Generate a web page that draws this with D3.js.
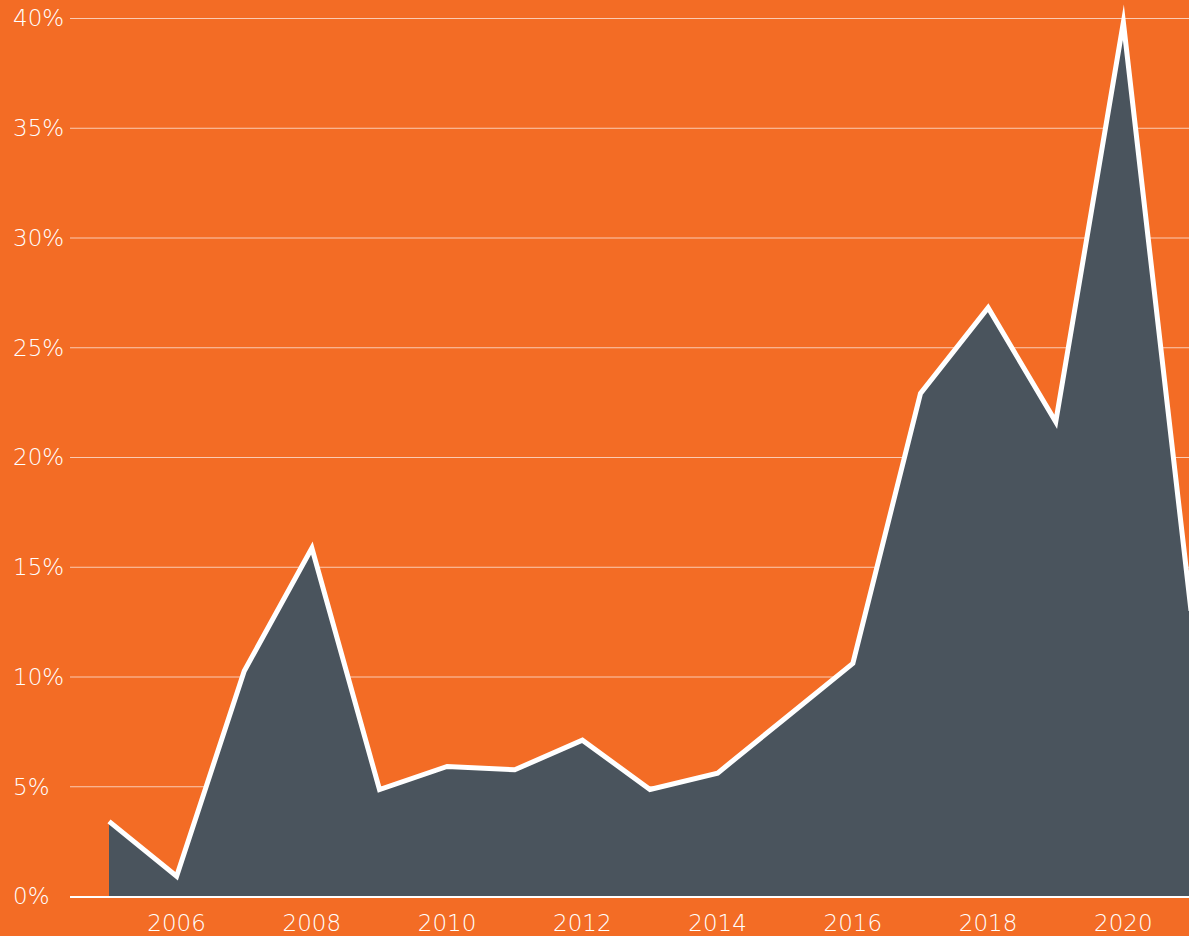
<!DOCTYPE html>
<html>
<head>
<meta charset="utf-8">
<script src="https://cdn.jsdelivr.net/npm/d3@7"></script>
<style>
  html, body { margin: 0; padding: 0; background: #f36c25; overflow: hidden; }
  svg { display: block; }
  text { font-family: "DejaVu Sans", sans-serif; font-weight: 200; fill: #fff; }
</style>
</head>
<body>
<div id="chart"></div>
<script>
// data
const years  = [2005, 2006, 2007, 2008, 2009, 2010, 2011, 2012, 2013, 2014, 2015, 2016, 2017, 2018, 2019, 2020, 2021];
const shares = [3.4, 0.9, 10.25, 15.85, 4.85, 5.9, 5.75, 7.1, 4.85, 5.6, 8.1, 10.6, 22.9, 26.8, 21.6, 39.8, 13.0];
const yTicks = [0, 5, 10, 15, 20, 25, 30, 35, 40];
const xTicks = [2006, 2008, 2010, 2012, 2014, 2016, 2018, 2020];

const width = 1189, height = 936;

const svg = d3.select("#chart").append("svg")
  .attr("width", width)
  .attr("height", height);

const data = years.map(function(y, i) { return { year: y, v: shares[i] }; });

const x = d3.scaleLinear().domain([2005, 2021]).range([109, 1191]);
const y = d3.scaleLinear().domain([0, 40]).range([896, 18]);

// gridlines
svg.append("g")
  .selectAll("line")
  .data(yTicks.filter(function(d) { return d > 0; }))
  .enter().append("line")
  .attr("x1", 70)
  .attr("x2", width)
  .attr("y1", function(d) { return y(d) + 0.5; })
  .attr("y2", function(d) { return y(d) + 0.5; })
  .attr("stroke", "rgba(255,255,255,0.65)")
  .attr("stroke-width", 1);

// y labels
svg.append("g")
  .selectAll("text")
  .data(yTicks)
  .enter().append("text")
  .attr("x", 13)
  .attr("y", function(d) { return y(d); })
  .attr("dy", "0.36em")
  .style("font-size", "23px")
  .text(function(d) { return d + "%"; });

// area
const area = d3.area()
  .x(function(d) { return x(d.year); })
  .y0(y(0))
  .y1(function(d) { return y(d.v); });

svg.append("path")
  .datum(data)
  .attr("fill", "#4a545d")
  .attr("d", area);

// baseline
svg.append("line")
  .attr("x1", 70)
  .attr("x2", width)
  .attr("y1", y(0) + 1)
  .attr("y2", y(0) + 1)
  .attr("stroke", "#fff")
  .attr("stroke-width", 2);

// line on top
const line = d3.line()
  .x(function(d) { return x(d.year); })
  .y(function(d) { return y(d.v); });

svg.append("path")
  .datum(data)
  .attr("fill", "none")
  .attr("stroke", "#fff")
  .attr("stroke-width", 5)
  .attr("stroke-linejoin", "miter")
  .attr("stroke-miterlimit", 30)
  .attr("d", line);

// x labels
svg.append("g")
  .selectAll("text")
  .data(xTicks)
  .enter().append("text")
  .attr("x", function(d) { return x(d); })
  .attr("y", 931)
  .attr("text-anchor", "middle")
  .style("font-size", "23px")
  .text(function(d) { return d; });
</script>
</body>
</html>
